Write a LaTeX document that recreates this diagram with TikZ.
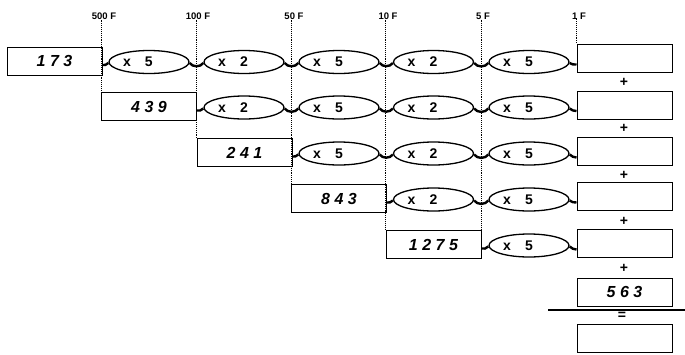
\documentclass[tikz,border=0pt]{standalone}
\usepackage{fontspec}
\setmainfont{Liberation Sans}
\newfontfamily\numfont[LetterSpace=28]{Liberation Sans}
\usetikzlibrary{shapes.geometric}
\begin{document}
\begin{tikzpicture}[x=1pt,y=-1pt,
 numbox/.style={draw, line width=1pt, minimum width=95pt, minimum height=28pt, inner sep=0pt,
   font=\numfont\fontsize{16}{16}\selectfont\bfseries\itshape},
 resbox/.style={draw, line width=1pt, minimum width=95pt, minimum height=28pt, inner sep=0pt},
 mulell/.style={draw, ellipse, line width=1.3pt, minimum width=80pt, minimum height=23pt, inner sep=0pt},
 multext/.style={font=\fontsize{14}{14}\selectfont\bfseries, inner sep=0pt},
 guide/.style={densely dotted, line width=0.9pt},
 link/.style={line width=2.4pt},
 hdr/.style={font=\fontsize{9.5}{9.5}\selectfont\bfseries, inner sep=0pt},
 plussign/.style={font=\fontsize{14}{14}\selectfont\bfseries, inner sep=0pt}]
\useasboundingbox (0,0) rectangle (685,354);

% header labels
\foreach \i/\x/\t in {0/102/500 F,1/196/100 F,2/292/50 F,3/386/10 F,4/481/5 F,5/577/1 F}
  \node[hdr] (h\i) at (\x+2,16) {\t};

% left number boxes and result boxes
\foreach \r/\y/\ry/\bx/\num in {1/61/58.5/54.5/173, 2/106.5/105/149/439, 3/152.5/151.5/244.5/241,
                                 4/198.5/196.5/339/843, 5/244.5/243.5/433.5/1275} {
  \node[numbox] (box\r) at (\bx,\y) {\num};
  \node[resbox] (res\r) at (624.5,\ry) {};
}

% multiplier ellipses and links
\foreach \r/\y in {1/61, 2/106.5, 3/152.5, 4/198.5, 5/244.5} {
  \foreach \k in {\r,...,5} {
    \pgfmathsetmacro\ex{{149,244,339,433.5,529}[\k-1]}
    \pgfmathtruncatemacro\mv{{5,2,5,2,5}[\k-1]}
    \node[mulell] (e\r-\k) at (\ex,\y+1) {};
    \node[multext] (t\r-\k) at (\ex-11,\y+1) {x\quad\mv};
    \pgfmathtruncatemacro\pk{\k-1}
    \ifnum\k=\r
      \draw[link] ([yshift=-4pt]box\r.east) to[out=-30,in=210] ([yshift=-1pt]e\r-\k.west);
    \else
      \draw[link] ([yshift=-1pt]e\r-\pk.east) to[out=-55,in=235] ([yshift=-1pt]e\r-\k.west);
    \fi
  }
  \draw[link] ([yshift=-1pt]e\r-5.east) to[out=-40,in=180] ([yshift=-6pt]res\r.west);
}

% guide lines
\draw[guide] (h0.south -| box2.north west) -- (box2.north west);
\draw[guide] (h1.south -| box3.north west) -- (box3.north west);
\draw[guide] (h2.south -| box4.north west) -- (box4.north west);
\draw[guide] (h3.south -| box5.north west) -- (box5.north west);
\draw[guide] (h4.south -| box5.north east) -- (box5.north east);
\draw[guide] (h5.south -| res1.north west) -- (res1.north west);

% plus signs
\node[plussign] (p1) at (624,82) {+};
\node[plussign] (p2) at (624,128) {+};
\node[plussign] (p3) at (624,175) {+};
\node[plussign] (p4) at (624,221) {+};
\node[plussign] (p5) at (624,268) {+};

% extra term, rule, result
\node[numbox] (extra) at (624.5,292) {563};
\coordinate (ruleL) at (548,310);
\coordinate (ruleR) at (685,310);
\draw[line width=1.2pt] (ruleL) -- (ruleR);
\node[plussign] (eq) at (622,316) {=};
\node[resbox] (final) at (624.5,338) {};
\end{tikzpicture}
\end{document}
